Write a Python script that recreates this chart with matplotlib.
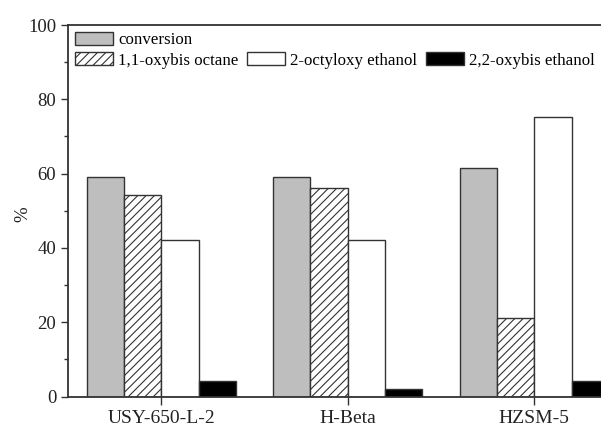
import numpy as np
import matplotlib
matplotlib.use('Agg')
import matplotlib.pyplot as plt
from matplotlib.patches import Rectangle

plt.rcParams['font.family'] = ['Liberation Serif', 'DejaVu Serif']
plt.rcParams['hatch.linewidth'] = 0.8

catalysts = ['USY-650-L-2', 'H-Beta', 'HZSM-5']
conversion = [59.2, 59.1, 61.5]
oxybis_octane = [54.2, 56.2, 21.2]
octyloxy_ethanol = [42.2, 42.2, 75.2]
oxybis_ethanol = [4.2, 2.1, 4.2]

dark = '#333333'

fig = plt.figure(figsize=(6.01, 4.26), dpi=100)
ax = fig.add_axes([68/601, 29.5/426, 559.5/601, 371.5/426])

x = np.arange(len(catalysts))
w = 0.2
b1 = ax.bar(x - 1.5*w, conversion, w, color='#bebebe', edgecolor=dark, linewidth=1, label='conversion')
b2 = ax.bar(x - 0.5*w, oxybis_octane, w, color='white', edgecolor=dark, linewidth=1, hatch='////', label='1,1-oxybis octane')
b3 = ax.bar(x + 0.5*w, octyloxy_ethanol, w, color='white', edgecolor=dark, linewidth=1, label='2-octyloxy ethanol')
b4 = ax.bar(x + 1.5*w, oxybis_ethanol, w, color='black', edgecolor=dark, linewidth=1, label='2,2-oxybis ethanol')

ax.set_xlim(-0.5, 2.5)
ax.set_ylim(0, 100)
ax.set_xticks(x)
ax.set_xticklabels(catalysts, fontsize=14, color='#222222')
ax.set_yticks(np.arange(0, 101, 20))
ax.set_yticks(np.arange(10, 100, 20), minor=True)
ax.tick_params(axis='y', which='major', labelsize=13.5, length=5, width=1, colors=dark, labelcolor='#222222')
ax.tick_params(axis='y', which='minor', length=3, width=1, colors=dark)
ax.tick_params(axis='x', length=6, width=1, pad=4, colors=dark, labelcolor='#222222')
for s in ax.spines.values():
    s.set_linewidth(1.3)
    s.set_color(dark)

ax.set_ylabel('%', fontsize=13.5, color='#222222')
ax.yaxis.set_label_coords(-0.065, 0.49)

# blank entries so the first row holds only "conversion"
blank = Rectangle((0, 0), 1, 1, visible=False)
handles = [b1, b2, blank, b3, blank, b4]
labels = ['conversion', '1,1-oxybis octane', '', '2-octyloxy ethanol', '', '2,2-oxybis ethanol']
ax.legend(handles, labels, loc='upper left', ncol=3, frameon=False, fontsize=12.2,
          handlelength=2.25, handleheight=0.82, handletextpad=0.3, columnspacing=0.5,
          labelspacing=0.24, borderpad=0.3, borderaxespad=0.1)

fig.savefig('out.png', dpi=100)
